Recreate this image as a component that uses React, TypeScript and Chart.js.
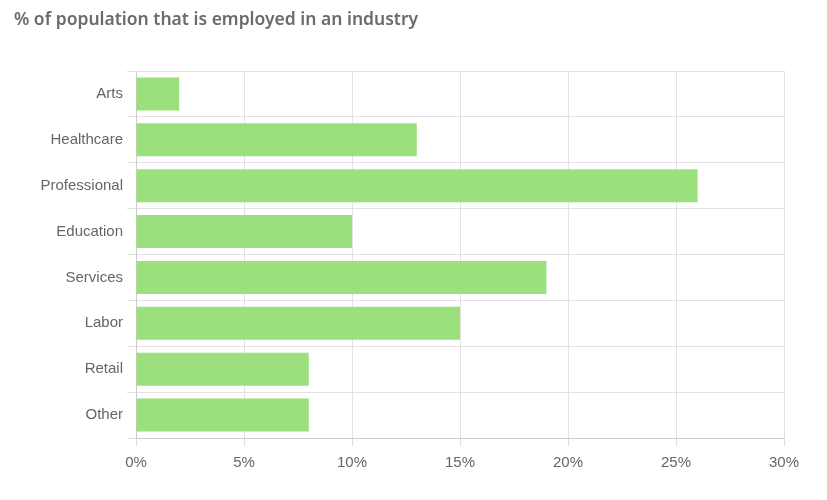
import React, { useEffect, useRef } from "react";
import { Chart, registerables } from "chart.js";

Chart.register(...registerables);

const categories = ["Arts", "Healthcare", "Professional", "Education", "Services", "Labor", "Retail", "Other"];
const values = [2, 13, 26, 10, 19, 15, 8, 8];
const titleText = "% of population that is employed in an industry";

export default function App() {
  const ref = useRef<HTMLCanvasElement | null>(null);
  useEffect(() => {
    if (!ref.current) return;
    const chart = new Chart(ref.current, {
      type: "bar",
      data: {
        labels: categories,
        datasets: [
          {
            data: values,
            backgroundColor: "#9ce07e",
            borderWidth: 0,
          },
        ],
      },
      options: {
        indexAxis: "y",
        animation: false,
        responsive: false,
        layout: { padding: { left: 14, right: 43, top: 0, bottom: 20 } },
        plugins: {
          legend: { display: false },
          tooltip: { enabled: false },
          title: {
            display: true,
            text: titleText,
            align: "start",
            color: "#6b6b6b",
            font: { family: "'Noto Sans', sans-serif", size: 17.5, weight: "600" },
            padding: { top: 10, bottom: 40 },
          },
        },
        scales: {
          x: {
            min: 0,
            max: 30,
            ticks: {
              stepSize: 5,
              color: "#666",
              font: { family: "'Liberation Sans', Arial, sans-serif", size: 15 },
              padding: 8,
              callback: (v: any) => v + "%",
            },
            grid: { color: "#e2e2e2", tickLength: 8 },
            border: { color: "#cccccc" },
          },
          y: {
            ticks: {
              color: "#666",
              font: { family: "'Liberation Sans', Arial, sans-serif", size: 15 },
              padding: 4,
            },
            grid: { color: "#e2e2e2", tickLength: 9 },
            border: { color: "#cccccc" },
            afterFit: (scale: any) => {
              scale.width = 122;
            },
          },
        },
      },
    });
    return () => chart.destroy();
  }, []);
  return (
    <div style={{ position: "absolute", left: 0, top: 0, width: 827, height: 500, background: "#fff" }}>
      <canvas ref={ref} width={827} height={500} />
    </div>
  );
}
